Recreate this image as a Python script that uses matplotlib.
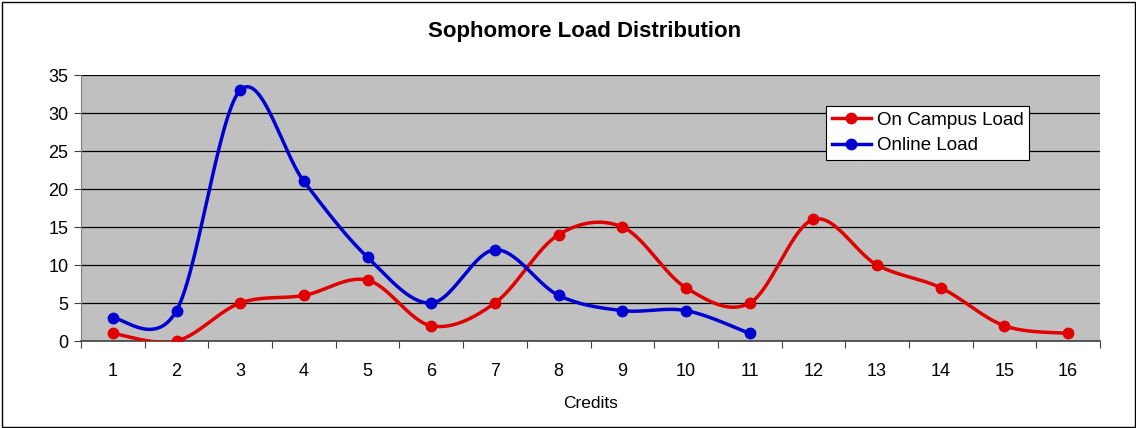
import numpy as np
import matplotlib.pyplot as plt
from matplotlib.patches import Rectangle

plt.rcParams['font.family'] = ['Liberation Sans', 'DejaVu Sans']

credits = list(range(1, 17))
campus = [1, 0, 5, 6, 8, 2, 5, 14, 15, 7, 5, 16, 10, 7, 2, 1]
online_credits = list(range(1, 12))
online = [3, 4, 33, 21, 11, 5, 12, 6, 4, 4, 1]


def smooth(x, y, n=30):
    # catmull-rom style bezier, like excel's smoothed line
    x = np.asarray(x, float)
    y = np.asarray(y, float)
    px = np.concatenate([[x[0]], x, [x[-1]]])
    py = np.concatenate([[y[0]], y, [y[-1]]])
    xs, ys = [], []
    t = np.linspace(0, 1, n)
    for i in range(1, len(px) - 2):
        p0 = np.array([px[i], py[i]])
        p3 = np.array([px[i + 1], py[i + 1]])
        c1 = p0 + (np.array([px[i + 1], py[i + 1]]) - np.array([px[i - 1], py[i - 1]])) / 6
        c2 = p3 - (np.array([px[i + 2], py[i + 2]]) - np.array([px[i], py[i]])) / 6
        pts = ((1 - t) ** 3)[:, None] * p0 + (3 * (1 - t) ** 2 * t)[:, None] * c1 \
            + (3 * (1 - t) * t ** 2)[:, None] * c2 + (t ** 3)[:, None] * p3
        xs.extend(pts[:, 0])
        ys.extend(pts[:, 1])
    return xs, ys


fig = plt.figure(figsize=(11.36, 4.28), dpi=100)
ax = fig.add_axes([81 / 1136, 1 - 341 / 428, (1100 - 81) / 1136, (341 - 75) / 428])
ax.set_facecolor('#c0c0c0')

red = '#e00000'
blue = '#0000d0'
sx, sy = smooth(credits, campus)
ax.plot(sx, sy, color=red, lw=2.5, zorder=3)
ax.plot(credits, campus, 'o', color=red, ms=7.5, zorder=4)
ox, oy = smooth(online_credits, online)
ax.plot(ox, oy, color=blue, lw=2.5, zorder=3)
ax.plot(online_credits, online, 'o', color=blue, ms=7.5, zorder=4)

# legend proxies
ax.plot([], [], '-o', color=red, lw=2.5, ms=7.5, label='On Campus Load')
ax.plot([], [], '-o', color=blue, lw=2.5, ms=7.5, label='Online Load')
leg = ax.legend(loc='upper left', bbox_to_anchor=(0.731, 0.883), fontsize=13.5,
                frameon=True, fancybox=False, framealpha=1, edgecolor='black',
                borderpad=0.3, handlelength=2.1, handletextpad=0.3, labelspacing=0.45,
                borderaxespad=0)
leg.get_frame().set_linewidth(0.8)

ax.set_xlim(0.5, 16.5)
ax.set_ylim(0, 35)
ax.set_yticks(range(0, 36, 5))
ax.yaxis.grid(True, color='black', lw=0.9)
ax.set_axisbelow(True)
ax.set_xticks(credits)
ax.set_xticks(np.arange(0.5, 17, 1), minor=True)
ax.tick_params(axis='x', which='major', length=0, pad=16, labelsize=13)
ax.tick_params(axis='x', which='minor', length=5, width=0.8, color='#404040', direction='out')
ax.tick_params(axis='y', length=5, width=0.8, color='#404040', labelsize=13, pad=4)
for s in ['top', 'right']:
    ax.spines[s].set_visible(False)
ax.spines['left'].set_color('#808080')
ax.spines['bottom'].set_color('#404040')
ax.spines['bottom'].set_linewidth(1.2)

ax.set_xlabel('Credits', fontsize=12.5, labelpad=11)
fig.text(0.515, 1 - 31 / 428, 'Sophomore Load Distribution', ha='center', va='center',
         fontsize=16, fontweight='bold')

fig.patches.append(Rectangle((1.5 / 1136, 1.5 / 428), 1 - 3 / 1136, 1 - 3 / 428,
                             transform=fig.transFigure, fill=False, edgecolor='black', lw=1))

fig.savefig('out.png', dpi=100)
